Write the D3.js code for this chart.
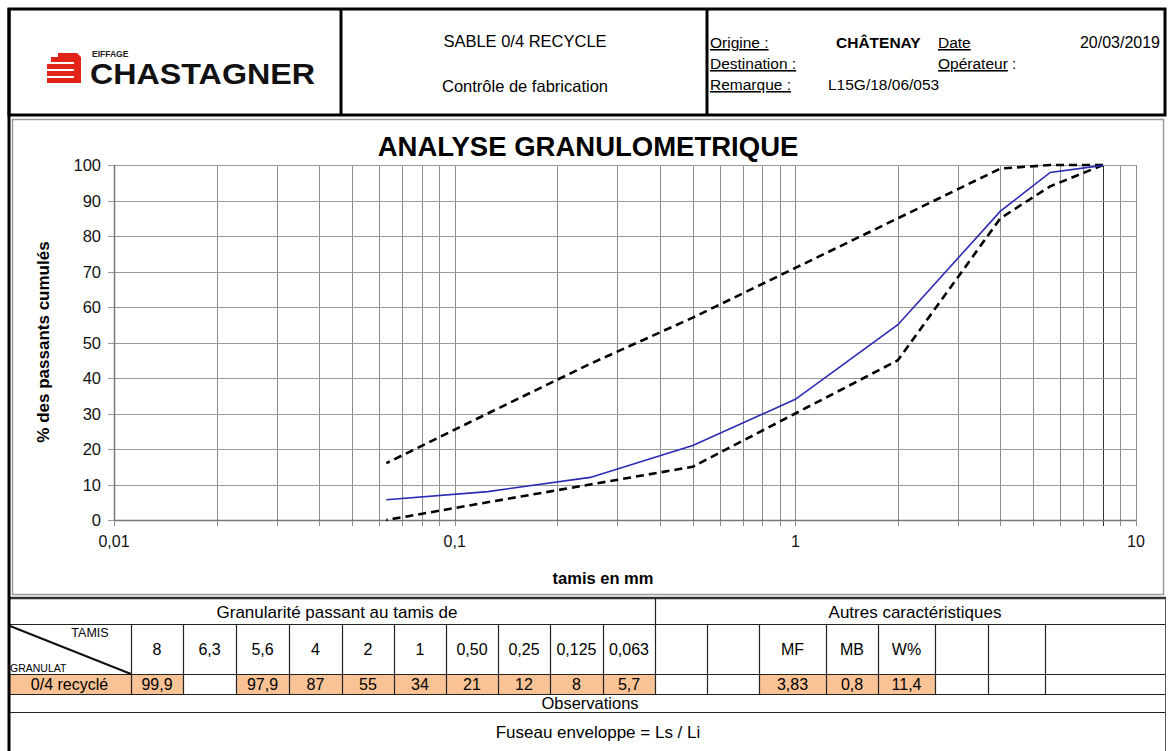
<!DOCTYPE html>
<html>
<head>
<meta charset="utf-8">
<script src="https://cdn.jsdelivr.net/npm/d3@7"></script>
<style>
  html, body { margin: 0; padding: 0; background: #fff; }
  svg { display: block; font-family: "Liberation Sans", Arial, Helvetica, sans-serif; }
</style>
</head>
<body>
<svg id="sheet" width="1169" height="751"></svg>
<script>
// ---- Data -------------------------------------------------------------
// sieve openings (mm) used by the curves
const sieves = [8, 5.6, 4, 2, 1, 0.5, 0.25, 0.125, 0.063];
// measured cumulative passing (%)
const passing = [99.9, 97.9, 87, 55, 34, 21, 12, 8, 5.7];
// envelope: upper limit (Ls) and lower limit (Li)
const upperLimit = [100, 100, 99, 85, 71, 57, 44, 30, 16];
const lowerLimit = [100, 94, 85, 45, 30, 15, 10, 5, 0];

// axis ticks
const xTickValues = [0.01, 0.1, 1, 10];
const xTickLabels = ["0,01", "0,1", "1", "10"];
const yTickValues = [0, 10, 20, 30, 40, 50, 60, 70, 80, 90, 100];

// table: sieve columns and their sizes
const tamisLabels = ["8", "6,3", "5,6", "4", "2", "1", "0,50", "0,25", "0,125", "0,063"];
const tamisSizes = [8, 6.3, 5.6, 4, 2, 1, 0.5, 0.25, 0.125, 0.063];
const granulatName = "0/4 recyclé";
// other characteristics
const otherLabels = ["", "", "MF", "MB", "W%", "", "", ""];
const otherValues = ["", "", "3,83", "0,8", "11,4", "", "", ""];

// header texts
const headerTitle = "SABLE 0/4 RECYCLE";
const headerSubtitle = "Contrôle de fabrication";
const origine = "CHÂTENAY";
const dateText = "20/03/2019";
const remarque = "L15G/18/06/053";

// ---- Drawing -----------------------------------------------------------
const svg = d3.select("#sheet");
const fmt = v => String(v).replace(".", ",");
const ORANGE = "#f9c396";
const TXT = 16.5;

// Header frame
const header = svg.append("g");
header.append("rect").attr("x", 9).attr("y", 9).attr("width", 1156).attr("height", 106)
  .attr("fill", "none").attr("stroke", "#000").attr("stroke-width", 3);
[341, 707].forEach(x => header.append("line").attr("x1", x).attr("x2", x).attr("y1", 9).attr("y2", 115)
  .attr("stroke", "#000").attr("stroke-width", 3));

// Logo
const logo = header.append("g");
const red = "#e2231a";
// stacked bars with folded corner
logo.append("path").attr("fill", red)
  .attr("d", "M58,53 L77,53 L81,57 L81,83 L47,83 L47,78 L74,78 L74,76 L47,76 L47,71 L74,71 L74,69 L47,69 L47,64 L74,64 L74,62 L51,62 L51,57 L58,57 Z");
logo.append("text").attr("x", 92).attr("y", 57).attr("font-size", 8.5).attr("font-weight", "bold")
  .attr("fill", "#222").text("EIFFAGE");
logo.append("text").attr("x", 90).attr("y", 84).attr("font-size", 30).attr("font-weight", "bold")
  .attr("fill", "#111").attr("textLength", 225).attr("lengthAdjust", "spacingAndGlyphs").text("CHASTAGNER");

// Middle header
header.append("text").attr("x", 525).attr("y", 47).attr("text-anchor", "middle").attr("font-size", TXT).text(headerTitle);
header.append("text").attr("x", 525).attr("y", 92).attr("text-anchor", "middle").attr("font-size", TXT).text(headerSubtitle);

// Right header
const hr = header.append("g").attr("font-size", 15.5);
hr.append("text").attr("x", 710).attr("y", 48).attr("text-decoration", "underline").text("Origine :");
hr.append("text").attr("x", 710).attr("y", 69).attr("text-decoration", "underline").text("Destination :");
hr.append("text").attr("x", 710).attr("y", 90).attr("text-decoration", "underline").text("Remarque :");
hr.append("text").attr("x", 836).attr("y", 48).attr("font-weight", "bold").text(origine);
hr.append("text").attr("x", 938).attr("y", 48).attr("text-decoration", "underline").text("Date");
hr.append("text").attr("x", 1160).attr("y", 48).attr("text-anchor", "end").attr("font-size", 16).text(dateText);
const op = hr.append("text").attr("x", 938).attr("y", 69);
op.append("tspan").attr("text-decoration", "underline").text("Opérateur");
op.append("tspan").text(" :");
hr.append("text").attr("x", 828).attr("y", 90).text(remarque);

// Chart area frame
svg.append("rect").attr("x", 12.5).attr("y", 119.5).attr("width", 1151).attr("height", 475)
  .attr("fill", "none").attr("stroke", "#9a9a9a").attr("stroke-width", 1.5);

// Scales
const x = d3.scaleLog().domain([0.01, 10]).range([114, 1136]);
const y = d3.scaleLinear().domain([0, 100]).range([520, 165]);

const plot = svg.append("g");

// Vertical log gridlines (1..9 per decade)
const xGrid = x.ticks();
plot.append("g").selectAll("line").data(xGrid).join("line")
  .attr("x1", d => Math.round(x(d)) + 0.5).attr("x2", d => Math.round(x(d)) + 0.5)
  .attr("y1", y(100)).attr("y2", y(0) + 6)
  .attr("stroke", d => d === 8 ? "#333" : "#8c8c8c").attr("stroke-width", 1);

// Horizontal gridlines
plot.append("g").selectAll("line").data(yTickValues).join("line")
  .attr("x1", x(0.01) - 6).attr("x2", x(10))
  .attr("y1", d => Math.round(y(d)) + 0.5).attr("y2", d => Math.round(y(d)) + 0.5)
  .attr("stroke", "#9a9a9a").attr("stroke-width", 1);

// Axes lines
plot.append("line").attr("x1", x(0.01)).attr("x2", x(10)).attr("y1", y(0) + 0.5).attr("y2", y(0) + 0.5)
  .attr("stroke", "#777").attr("stroke-width", 1.5);
plot.append("line").attr("x1", x(0.01) + 0.5).attr("x2", x(0.01) + 0.5).attr("y1", y(0)).attr("y2", y(100))
  .attr("stroke", "#777").attr("stroke-width", 1.5);

// Y tick labels
plot.append("g").selectAll("text").data(yTickValues).join("text")
  .attr("x", 101).attr("y", d => y(d) + 6).attr("text-anchor", "end")
  .attr("font-size", 16.5).attr("fill", "#111").text(d => d);

// X tick labels
plot.append("g").selectAll("text").data(xTickValues).join("text")
  .attr("x", d => x(d)).attr("y", 547).attr("text-anchor", "middle")
  .attr("font-size", 16).attr("fill", "#111").text((d, i) => xTickLabels[i]);

// Titles
svg.append("text").attr("x", 588).attr("y", 156).attr("text-anchor", "middle")
  .attr("font-size", 27.5).attr("font-weight", "bold").text("ANALYSE GRANULOMETRIQUE");
svg.append("text").attr("x", 603).attr("y", 584).attr("text-anchor", "middle")
  .attr("font-size", 16.5).attr("font-weight", "bold").text("tamis en mm");
svg.append("text").attr("transform", "translate(49,342) rotate(-90)").attr("text-anchor", "middle")
  .attr("font-size", 17).attr("font-weight", "bold").text("% des passants cumulés");

// Curves
const line = d3.line().x(d => x(d[0])).y(d => y(d[1]));
const series = (vals) => sieves.map((s, i) => [s, vals[i]]);

plot.append("path").attr("d", line(series(upperLimit)))
  .attr("fill", "none").attr("stroke", "#000").attr("stroke-width", 2.6).attr("stroke-dasharray", "8,5");
plot.append("path").attr("d", line(series(lowerLimit)))
  .attr("fill", "none").attr("stroke", "#000").attr("stroke-width", 2.6).attr("stroke-dasharray", "8,5");
plot.append("path").attr("d", line(series(passing)))
  .attr("fill", "none").attr("stroke", "#2a2ab4").attr("stroke-width", 1.6);

// ---- Table -------------------------------------------------------------
const table = svg.append("g");
const colEdges = [8, 131, 183, 236, 289, 342, 394, 446, 498, 550, 603, 655, 707, 759, 826, 878, 935, 988, 1045, 1166];
const rowY = [598, 624, 674, 694, 712];

// value row fills
const tamisValues = tamisSizes.map(s => {
  const i = sieves.indexOf(s);
  return i >= 0 ? fmt(passing[i]) : "";
});
const rowCells = [granulatName].concat(tamisValues, otherValues);
rowCells.forEach((v, i) => {
  if (v !== "") {
    table.append("rect").attr("x", colEdges[i]).attr("y", rowY[2]).attr("width", colEdges[i + 1] - colEdges[i])
      .attr("height", rowY[3] - rowY[2]).attr("fill", ORANGE);
  }
});

// horizontal rules
table.append("line").attr("x1", 8).attr("x2", 1166).attr("y1", rowY[0]).attr("y2", rowY[0])
  .attr("stroke", "#333").attr("stroke-width", 2.5);
[rowY[1], rowY[2], rowY[3], rowY[4]].forEach(yy => table.append("line")
  .attr("x1", 8).attr("x2", 1166).attr("y1", yy + 0.5).attr("y2", yy + 0.5)
  .attr("stroke", "#222").attr("stroke-width", 1.2));

// vertical rules
table.append("line").attr("x1", 655.5).attr("x2", 655.5).attr("y1", rowY[0]).attr("y2", rowY[1])
  .attr("stroke", "#222").attr("stroke-width", 1.2);
colEdges.slice(1, -1).forEach(xx => table.append("line")
  .attr("x1", xx + 0.5).attr("x2", xx + 0.5).attr("y1", rowY[1]).attr("y2", rowY[3])
  .attr("stroke", "#222").attr("stroke-width", 1.2));
table.append("line").attr("x1", 1165.5).attr("x2", 1165.5).attr("y1", rowY[0]).attr("y2", 751)
  .attr("stroke", "#555").attr("stroke-width", 1);

// diagonal header cell
table.append("line").attr("x1", 10).attr("y1", rowY[1] + 2).attr("x2", 131).attr("y2", rowY[2])
  .attr("stroke", "#111").attr("stroke-width", 2);
table.append("text").attr("x", 90).attr("y", 637).attr("text-anchor", "middle").attr("font-size", 12.5).text("TAMIS");
table.append("text").attr("x", 10).attr("y", 672).attr("font-size", 10.5).text("GRANULAT");

// section headings
table.append("text").attr("x", 337).attr("y", 618).attr("text-anchor", "middle").attr("font-size", 17).text("Granularité passant au tamis de");
table.append("text").attr("x", 915).attr("y", 618).attr("text-anchor", "middle").attr("font-size", 17).text("Autres caractéristiques");

// column labels
const headLabels = [""].concat(tamisLabels, otherLabels);
headLabels.forEach((t, i) => {
  if (t !== "") {
    table.append("text").attr("x", (colEdges[i] + colEdges[i + 1]) / 2).attr("y", 655)
      .attr("text-anchor", "middle").attr("font-size", 16).text(t);
  }
});
// value labels
rowCells.forEach((t, i) => {
  if (t !== "") {
    table.append("text").attr("x", (colEdges[i] + colEdges[i + 1]) / 2).attr("y", 690)
      .attr("text-anchor", "middle").attr("font-size", 16).text(t);
  }
});

table.append("text").attr("x", 590).attr("y", 709).attr("text-anchor", "middle").attr("font-size", 16.5).text("Observations");
table.append("text").attr("x", 598).attr("y", 738).attr("text-anchor", "middle").attr("font-size", 17).text("Fuseau enveloppe = Ls / Li");

// left page border
svg.append("line").attr("x1", 9).attr("x2", 9).attr("y1", 8).attr("y2", 751)
  .attr("stroke", "#000").attr("stroke-width", 3);
</script>
</body>
</html>
